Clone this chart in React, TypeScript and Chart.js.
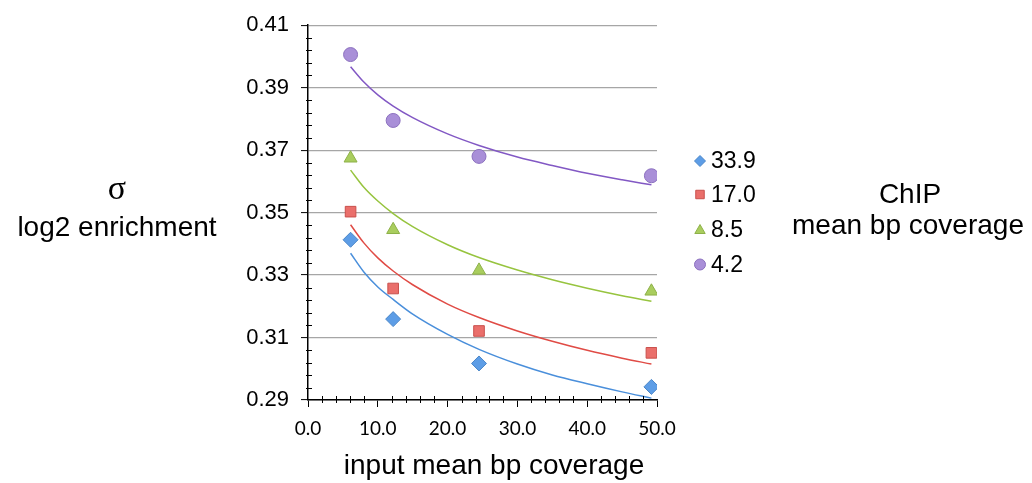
import React, { useEffect, useRef } from 'react';
import { Chart, registerables } from 'chart.js';
import { drawPoint } from 'chart.js/helpers';

Chart.register(...registerables);

// input mean bp coverage (x positions of the measured points)
const inputCoverage = [6.1, 12.2, 24.5, 49.2];
// ChIP mean bp coverage series labels
const chipLabels = ['33.9', '17.0', '8.5', '4.2'];
// sigma (log2 enrichment) values per ChIP coverage
const sigma339 = [0.3413, 0.3159, 0.3017, 0.2942];
const sigma170 = [0.3503, 0.3257, 0.3121, 0.3051];
const sigma85 = [0.3674, 0.3445, 0.3315, 0.3248];
const sigma42 = [0.4006, 0.3795, 0.368, 0.3618];

// trendlines
const trendX = [6.1, 8, 10, 12.2, 15, 20, 24.5, 30, 35, 40, 45, 49.2];
const trend339 = [0.337, 0.331, 0.3262, 0.3222, 0.3175, 0.311, 0.3062, 0.3015, 0.298, 0.2952, 0.2926, 0.2906];
const trend170 = [0.3461, 0.3403, 0.3355, 0.3313, 0.3269, 0.3207, 0.3164, 0.3121, 0.3088, 0.3059, 0.3034, 0.3015];
const trend85 = [0.3636, 0.3581, 0.3537, 0.3497, 0.3455, 0.3397, 0.3356, 0.3316, 0.3285, 0.3258, 0.3234, 0.3216];
const trend42 = [0.3967, 0.3918, 0.3877, 0.3841, 0.3804, 0.3752, 0.3715, 0.3678, 0.3651, 0.3626, 0.3605, 0.3589];

const yMin = 0.29;
const yMax = 0.41;
const yStep = 0.02;
const xMin = 0;
const xMax = 50;
const xStep = 10;

const seriesValues = [sigma339, sigma170, sigma85, sigma42];
const trendValues = [trend339, trend170, trend85, trend42];
const pointStyles = ['rectRot', 'rect', 'triangle', 'circle'];
const pointRadii = [7.5, 7.5, 7.5, 7];
const legendRadii = [5.5, 6, 6, 5.5];
const fills = ['#5D9DE6', '#EA6F6B', '#A9CD5E', '#A98FD8'];
const borders = ['#4A86C8', '#C9504C', '#8DB048', '#8C71BF'];
const lineColors = ['#4A8FDB', '#E04B45', '#97C43F', '#8258C4'];

const overlayPlugin = {
  id: 'overlay',
  afterDraw(chart: any) {
    const ctx = chart.ctx;
    const xs = chart.scales.x;
    const ys = chart.scales.y;
    const left = chart.chartArea.left;
    const bottom = chart.chartArea.bottom;
    ctx.save();
    // minor ticks
    ctx.strokeStyle = '#000';
    ctx.lineWidth = 1;
    for (let v = yMin; v < yMax - 1e-9; v += 0.004) {
      const r = Math.round((v - yMin) / 0.004);
      if (r % 5 === 0) continue;
      const py = Math.round(ys.getPixelForValue(v)) + 0.5;
      ctx.beginPath();
      ctx.moveTo(left - 2, py);
      ctx.lineTo(left + 4, py);
      ctx.stroke();
    }
    for (let v = xMin; v < xMax - 1e-9; v += 2) {
      const r = Math.round((v - xMin) / 2);
      if (r % 5 === 0) continue;
      const px = Math.round(xs.getPixelForValue(v)) + 0.5;
      ctx.beginPath();
      ctx.moveTo(px, bottom - 4);
      ctx.lineTo(px, bottom + 3);
      ctx.stroke();
    }
    // legend
    const legendY = [161, 194.5, 229.5, 264.5];
    chipLabels.forEach((lab, i) => {
      ctx.fillStyle = fills[i];
      ctx.strokeStyle = borders[i];
      drawPoint(ctx, { pointStyle: pointStyles[i], radius: legendRadii[i], rotation: 0, borderWidth: 1 } as any, 700, legendY[i] + (i === 2 ? 1 : 0));
      ctx.fillStyle = '#000';
      ctx.font = '23px "Liberation Sans", Arial, sans-serif';
      ctx.textAlign = 'left';
      ctx.textBaseline = 'middle';
      ctx.fillText(lab, 711, legendY[i] + 1);
    });
    // titles
    ctx.fillStyle = '#000';
    ctx.textAlign = 'center';
    ctx.textBaseline = 'middle';
    ctx.font = '34px "Liberation Serif", "DejaVu Serif", serif';
    ctx.fillText('σ', 117, 190);
    ctx.font = '28px "Liberation Sans", Arial, sans-serif';
    ctx.fillText('log2 enrichment', 117, 228);
    ctx.fillText('ChIP', 910, 195);
    ctx.fillText('mean bp coverage', 908, 226);
    ctx.fillText('input mean bp coverage', 494, 466);
    ctx.restore();
  },
};

export default function App() {
  const ref = useRef<HTMLCanvasElement>(null);
  useEffect(() => {
    if (!ref.current) return;
    const scatterSets = seriesValues.map((vals, i) => ({
      type: 'scatter' as const,
      label: chipLabels[i],
      data: inputCoverage.map((x, j) => ({ x, y: vals[j] })),
      pointStyle: pointStyles[i],
      pointRadius: pointRadii[i],
      backgroundColor: fills[i],
      borderColor: borders[i],
      borderWidth: 1,
      order: 0,
    }));
    const trendSets = trendValues.map((vals, i) => ({
      type: 'line' as const,
      label: chipLabels[i] + ' trend',
      data: trendX.map((x, j) => ({ x, y: vals[j] })),
      borderColor: lineColors[i],
      borderWidth: 1.5,
      pointRadius: 0,
      fill: false,
      cubicInterpolationMode: 'monotone' as const,
      order: 1,
    }));
    const chart = new Chart(ref.current, {
      type: 'scatter',
      data: { datasets: [...scatterSets, ...trendSets] as any },
      options: {
        responsive: false,
        animation: false,
        devicePixelRatio: 1,
        layout: { padding: { left: 0, top: 17, right: 375, bottom: 0 } },
        plugins: { legend: { display: false }, tooltip: { enabled: false }, title: { display: false } },
        scales: {
          x: {
            type: 'linear',
            min: xMin,
            max: xMax,
            afterFit: (s: any) => {
              s.height = 83;
            },
            ticks: {
              stepSize: xStep,
              padding: 10,
              color: '#000',
              font: { family: 'Lato', size: 19 },
              callback: (v: any) => Number(v).toFixed(1),
            },
            grid: { drawOnChartArea: false, drawTicks: true, tickLength: 7, tickColor: '#000', tickWidth: 1 },
            border: { color: '#000', width: 1.5 },
          },
          y: {
            type: 'linear',
            min: yMin,
            max: yMax,
            afterFit: (s: any) => {
              s.width = 308;
            },
            ticks: {
              stepSize: yStep,
              padding: 12,
              color: '#000',
              font: { family: 'Liberation Sans', size: 22 },
              callback: (v: any) => Number(v).toFixed(2),
            },
            grid: { color: '#A6A6A6', lineWidth: 1.2, drawTicks: true, tickLength: 7, tickColor: '#000', tickWidth: 1 },
            border: { color: '#000', width: 1.5 },
          },
        },
      },
      plugins: [overlayPlugin],
    });
    return () => chart.destroy();
  }, []);
  return (
    <div style={{ position: 'absolute', left: 0, top: 0, width: 1032, height: 483, background: '#fff' }}>
      <canvas ref={ref} width={1032} height={483} />
    </div>
  );
}
